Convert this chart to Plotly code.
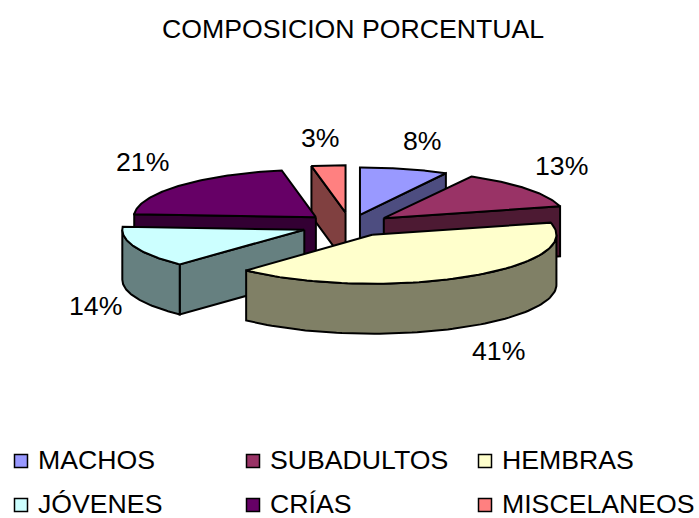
import numpy as np
import plotly.graph_objects as go

TITLE = "COMPOSICION PORCENTUAL"
categories = ["MACHOS", "SUBADULTOS", "HEMBRAS", "JÓVENES", "CRÍAS", "MISCELANEOS"]
values = [8, 13, 41, 14, 21, 3]

top_colors = ["#9999FF", "#993366", "#FFFFCC", "#CCFFFF", "#660066", "#FF8080"]
wall_colors = ["#4D4D80", "#4D1A33", "#808066", "#668080", "#330033", "#804040"]

# pie geometry (screen pixels); per-slice scales stand in for the perspective of the 3-D view
CX, CY, RX, RY, DEPTH = 350.0, 225.0, 182.0, 47.5, 50.0
explode = [0.22, 0.235, 0.24, 0.27, 0.25, 0.26]
rx_scale = [0.98, 1.0, 1.012, 1.0, 1.0, 1.0]
ry_scale = [1.0, 1.0, 1.03, 1.0, 1.0, 1.0]
draw_order = [0, 5, 4, 1, 3, 2]
label_pos = [(422, 141), (561, 166), (498, 351), (95, 306), (142, 162), (320, 138)]
legend_pos = [(21, 461), (253, 461), (485, 461), (21, 505), (253, 505), (485, 505)]

FONT = "Liberation Sans, Arial, sans-serif"
FS = 26.67
fig = go.Figure()


def face(xs, ys, color):
    fig.add_trace(go.Scatter(
        x=xs, y=ys, mode="lines", fill="toself", fillcolor=color,
        line=dict(color="black", width=2), hoverinfo="skip", showlegend=False))


cum = np.cumsum([0] + values) / sum(values) * 2 * np.pi
for i in draw_order:
    a0, a1 = cum[i], cum[i + 1]
    mid = (a0 + a1) / 2
    rx, ry = RX * rx_scale[i], RY * ry_scale[i]
    ax = CX + explode[i] * RX * np.sin(mid)
    ay = CY - explode[i] * RY * np.cos(mid)
    t = np.linspace(a0, a1, 80)
    rim_x = ax + rx * np.sin(t)
    rim_y = ay - ry * np.cos(t)

    # radial faces that look towards the viewer
    if np.sin(a1) > 1e-6:
        ex, ey = rim_x[-1], rim_y[-1]
        face([ax, ex, ex, ax, ax], [ay, ey, ey + DEPTH, ay + DEPTH, ay], wall_colors[i])
    if np.sin(a0) < -1e-6:
        ex, ey = rim_x[0], rim_y[0]
        face([ax, ex, ex, ax, ax], [ay, ey, ey + DEPTH, ay + DEPTH, ay], wall_colors[i])

    # curved outer wall (front half only)
    lo, hi = max(a0, np.pi / 2), min(a1, 3 * np.pi / 2)
    if hi > lo:
        w = np.linspace(lo, hi, 80)
        wx = ax + rx * np.sin(w)
        wy = ay - ry * np.cos(w)
        face(np.r_[wx, wx[::-1], wx[0]], np.r_[wy, wy[::-1] + DEPTH, wy[0]], wall_colors[i])

    # top of the wedge
    face(np.r_[ax, rim_x, ax], np.r_[ay, rim_y, ay], top_colors[i])

annotations = [dict(x=352.5, y=29, text=TITLE, showarrow=False,
                    font=dict(family=FONT, size=FS, color="black"))]
for v, (lx, ly) in zip(values, label_pos):
    annotations.append(dict(x=lx, y=ly, text=f"{v}%", showarrow=False,
                            font=dict(family=FONT, size=FS, color="black")))
for name, color, (lx, ly) in zip(categories, top_colors, legend_pos):
    fig.add_trace(go.Scatter(
        x=[lx], y=[ly], mode="markers", hoverinfo="skip", showlegend=False,
        marker=dict(symbol="square", size=13, color=color, line=dict(color="black", width=1.5))))
    annotations.append(dict(x=lx + 15, y=ly - 1, text=name, showarrow=False, xanchor="left",
                            font=dict(family=FONT, size=FS, color="black")))

fig.update_layout(
    width=699, height=518, margin=dict(l=0, r=0, t=0, b=0),
    paper_bgcolor="white", plot_bgcolor="white", annotations=annotations,
    xaxis=dict(range=[0, 699], visible=False, fixedrange=True),
    yaxis=dict(range=[518, 0], visible=False, fixedrange=True),
)
fig.write_html("out.html", config={"displayModeBar": False},
               post_script="document.body.style.margin='0';document.body.style.overflow='hidden';")
